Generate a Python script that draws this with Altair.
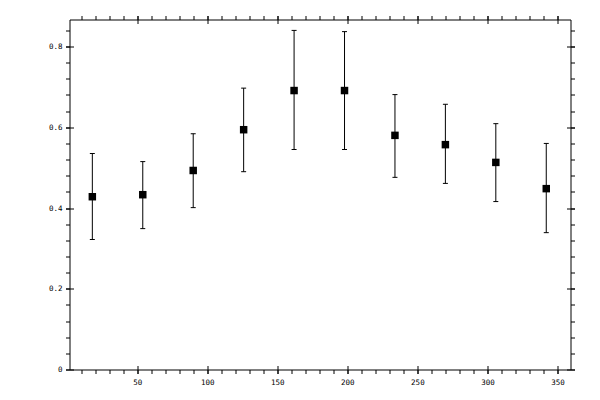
import altair as alt
import pandas as pd

# data
angle = [18, 54, 90, 126, 162, 198, 234, 270, 306, 342]
value = [0.428, 0.433, 0.493, 0.594, 0.691, 0.691, 0.580, 0.557, 0.513, 0.448]
lower = [0.322, 0.349, 0.401, 0.490, 0.545, 0.545, 0.476, 0.461, 0.416, 0.339]
upper = [0.535, 0.515, 0.584, 0.697, 0.840, 0.837, 0.681, 0.657, 0.609, 0.560]

x_minor_ticks = list(range(10, 360, 10))
x_major_ticks = [50, 100, 150, 200, 250, 300, 350]
y_minor_ticks = [round(0.04 * k, 2) for k in range(0, 22)]
y_major_ticks = [0, 0.2, 0.4, 0.6, 0.8]
x_domain = [1.7, 359.3]
y_domain = [0, 0.867]

df = pd.DataFrame({"angle": angle, "value": value, "lower": lower, "upper": upper})

FONT = "DejaVu Sans Mono"
xs = alt.Scale(domain=x_domain, nice=False, zero=False)
ys = alt.Scale(domain=y_domain, nice=False, zero=False)


def axis(orient, values, major, labels=False, pad=0, expr=None):
    kw = dict(
        orient=orient,
        values=values,
        title=None,
        grid=False,
        domain=False,
        ticks=True,
        tickColor="black",
        tickWidth=1,
        labelOverlap=False,
        labelFlush=False,
    )
    if major:
        kw.update(tickSize=8, offset=-4)
    else:
        kw.update(tickSize=4)
    if labels:
        kw.update(
            labels=True,
            labelFont=FONT,
            labelFontSize=7.5,
            labelColor="black",
            labelPadding=pad,
        )
        if expr:
            kw.update(labelExpr=expr)
    else:
        kw.update(labels=False)
    return alt.Axis(**kw)


base = alt.Chart(df)

rules = base.mark_rule(color="black", strokeWidth=1).encode(
    x=alt.X("angle:Q", scale=xs, axis=axis("bottom", x_minor_ticks, False)),
    y=alt.Y("lower:Q", scale=ys, axis=axis("left", y_minor_ticks, False)),
    y2="upper:Q",
)

caps_up = base.mark_tick(orient="horizontal", size=5, thickness=1, color="black", opacity=1).encode(
    x=alt.X("angle:Q", scale=xs, axis=axis("top", x_minor_ticks, False)),
    y=alt.Y("upper:Q", scale=ys, axis=axis("right", y_minor_ticks, False)),
)

caps_lo = base.mark_tick(orient="horizontal", size=5, thickness=1, color="black", opacity=1).encode(
    x=alt.X("angle:Q", scale=xs, axis=axis("bottom", x_major_ticks, True, True, 5)),
    y=alt.Y(
        "lower:Q",
        scale=ys,
        axis=axis(
            "left", y_major_ticks, True, True, 3.5,
            expr="datum.value == 0 ? '0' : format(datum.value, '.1f')",
        ),
    ),
)

points = base.mark_square(size=56, color="black", opacity=1, filled=True).encode(
    x=alt.X("angle:Q", scale=xs, axis=axis("top", x_major_ticks, True)),
    y=alt.Y("value:Q", scale=ys, axis=axis("right", y_major_ticks, True)),
)

chart = (
    alt.layer(rules, caps_up, caps_lo, points)
    .resolve_axis(x="independent", y="independent")
    .properties(
        width=501,
        height=350,
        autosize=alt.AutoSizeParams(type="none"),
        padding={"left": 61.5, "top": 11.5, "right": 21.5, "bottom": 22.5},
        background="white",
    )
    .configure_view(stroke="black", strokeWidth=1)
)

chart.save("out.html", embed_options={"renderer": "svg", "actions": False})
